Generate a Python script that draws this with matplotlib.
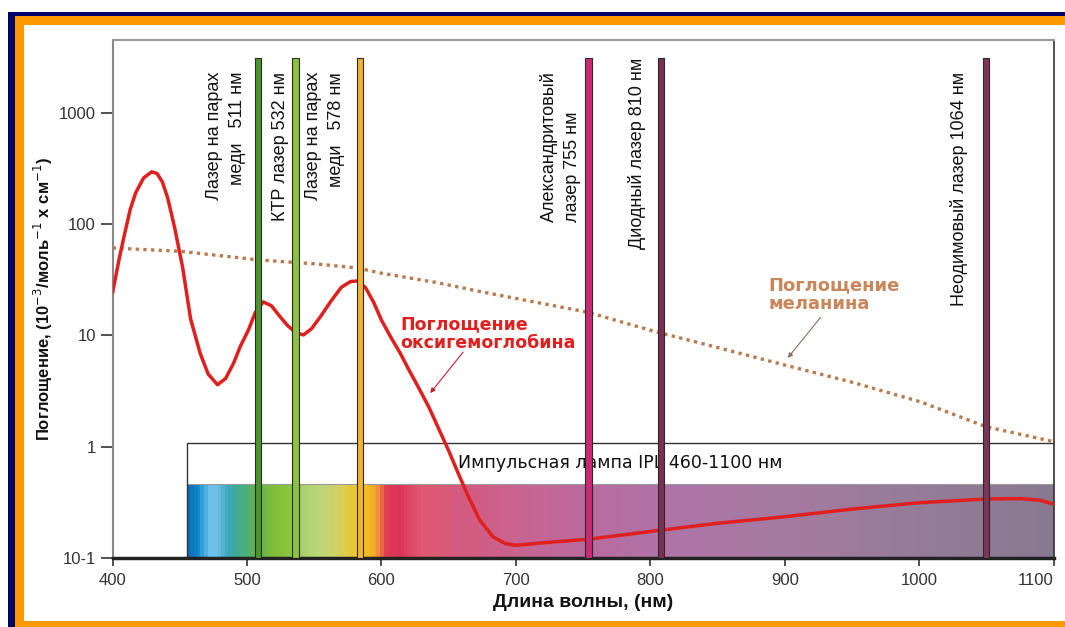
import numpy as np
import matplotlib
matplotlib.use("Agg")
import matplotlib.pyplot as plt
from matplotlib.colors import LinearSegmentedColormap
from matplotlib.patches import Rectangle

plt.rcParams["font.family"] = ["Liberation Sans", "DejaVu Sans"]

# oxyhemoglobin absorption (red line)
hb_nm = [400, 405, 409, 413, 417, 423, 429, 433, 437, 441, 446, 452, 458, 465, 471, 478,
         484, 490, 495, 501, 506, 512, 518, 524, 530, 536, 542, 548, 555, 562, 570,
         577, 582, 588, 594, 600, 607, 614, 620, 627, 635, 642, 650, 657, 664,
         673, 683, 692, 700, 720, 755, 808, 850, 900, 950, 1000, 1050, 1075, 1090, 1100]
hb_val = [24.5, 50, 83, 135, 190, 260, 295, 285, 239, 170, 94, 41, 14, 6.95, 4.5, 3.6,
          4.1, 5.65, 8, 11.2, 16, 20, 18.5, 15, 12.3, 10.6, 10.1, 11.5, 15, 20, 27,
          30.5, 30.8, 27, 20, 13.7, 9.6, 6.9, 5.0, 3.5, 2.3, 1.5, 0.92, 0.58, 0.37,
          0.22, 0.155, 0.135, 0.13, 0.137, 0.148, 0.178, 0.205, 0.235, 0.275, 0.314, 0.339,
          0.342, 0.33, 0.305]

# melanin absorption (dotted line)
mel_nm = [400, 450, 510, 550, 582, 599, 640, 674, 753, 805, 837, 900, 950, 1001, 1050, 1100]
mel_val = [61, 57, 47.5, 44, 40.4, 36.4, 30, 24.7, 16.2, 10.7, 8.55, 5.42, 3.8, 2.53, 1.51, 1.11]

# lasers
laser_nm = [508, 536, 584, 754, 808, 1050]
laser_colors = ["#4a962c", "#8dc23e", "#f2b42e", "#c92a76", "#7b3053", "#7e3558"]
laser_top = 3100
laser_labels = ["Лазер на парах\nмеди   511 нм", "КТР лазер 532 нм", "Лазер на парах\nмеди   578 нм",
                "Александритовый\nлазер 755 нм", "Диодный лазер 810 нм", "Неодимовый лазер 1064 нм"]
label_x = [484, 525, 558, 733, 790, 1030]
label_y = [2330, 2330, 2330, 104, 3100, 2330]
label_va = ["top", "top", "top", "bottom", "top", "top"]
label_ma = ["right", "left", "right", "left", "left", "left"]

# IPL lamp
ipl_start, ipl_end = 455, 1100
ipl_box_top = 1.08
ipl_band_top = 0.463
spec_nm = [455, 462, 470, 476, 484, 494, 505, 518, 530, 540, 552, 565, 575, 588, 596,
           602, 612, 630, 660, 700, 760, 820, 900, 1000, 1100]
spec_col = ["#0a6fb8", "#0f86cc", "#6cc0ec", "#70c0e8", "#3aa6b8", "#45ad8a", "#5fb34f",
            "#7dbd3a", "#8cc43c", "#a8d06a", "#bcd77a", "#cfd268", "#e6c83a", "#f6c01a",
            "#f29a3a", "#e03a55", "#dc3458", "#e05a72", "#d45a80", "#c86490", "#b86ca0",
            "#ad74a6", "#a57aa0", "#947c98", "#887890"]

W, H = 1065, 627
fig = plt.figure(figsize=(W / 100, H / 100), dpi=100)
fig.patch.set_facecolor("white")

# frame strips (pixel boxes x0, y0, x1, y1 from top-left)
navy, orange = "#000066", "#ff9900"
for (x0, y0, x1, y1, c) in [(8, 12, 1065, 16, navy), (15, 16, 1065, 25, orange),
                            (8, 12, 15, 627, navy), (15, 16, 24, 627, orange),
                            (15, 621, 1065, 627, orange)]:
    fig.add_artist(Rectangle((x0 / W, 1 - y1 / H), (x1 - x0) / W, (y1 - y0) / H,
                             transform=fig.transFigure, color=c, lw=0))

ax = fig.add_axes([112.7 / W, (H - 558) / H, (1053.5 - 112.7) / W, 518 / H])
ax.set_yscale("log")
ax.set_xlim(400, 1100)
ax.set_ylim(0.1, 4510)

# spectrum band
cmap = LinearSegmentedColormap.from_list(
    "spec", [((n - ipl_start) / (ipl_end - ipl_start), c) for n, c in zip(spec_nm, spec_col)])
gx = np.linspace(ipl_start, ipl_end, 700)
ax.pcolormesh(gx, [0.1, ipl_band_top], gx[:-1].reshape(1, -1), cmap=cmap,
              vmin=ipl_start, vmax=ipl_end, shading="flat", zorder=1)
ax.plot([ipl_start, ipl_end], [ipl_band_top, ipl_band_top], color="#999999", lw=0.8, zorder=1.5)
ax.add_patch(Rectangle((ipl_start, 0.1), ipl_end - ipl_start, ipl_box_top - 0.1,
                       fill=False, ec="#333333", lw=1.0, zorder=2))
ax.text(657, 0.715, "Импульсная лампа IPL 460-1100 нм", fontsize=12.5,
        family=["DejaVu Sans"], ha="left", va="center", color="#111111", zorder=2)

# curves
ax.plot(mel_nm, mel_val, color="#b87a4e", lw=2.4, linestyle=(0, (1, 1.3)), zorder=3)
ax.plot(hb_nm, hb_val, color="#e0201e", lw=2.5, zorder=3, solid_joinstyle="round")

# laser bars
ax.bar(laser_nm, [laser_top - 0.1] * len(laser_nm), bottom=0.1, width=4.5,
       color=laser_colors, edgecolor="#2a2a2a", linewidth=0.8, zorder=4)

for t, x, y, va, ma in zip(laser_labels, label_x, label_y, label_va, label_ma):
    ax.text(x, y, t, rotation=90, ha="center", va=va, multialignment=ma,
            fontsize=13, linespacing=1.45, color="#111111", zorder=5)

# curve captions
ax.text(614, 15.2, "Поглощение\nоксигемоглобина", color="#e0201e", fontsize=12.5,
        family=["DejaVu Sans"], fontweight="bold", ha="left", va="top", linespacing=1.05, zorder=5)
ax.annotate("", xy=(635, 2.9), xytext=(662, 7.4),
            arrowprops=dict(arrowstyle="-|>", color="#c02030", lw=0.8, mutation_scale=7), zorder=5)
ax.text(888, 34, "Поглощение\nмеланина", color="#c8865a", fontsize=13,
        family=["DejaVu Sans"], fontweight="bold", ha="left", va="top", linespacing=1.05, zorder=5)
ax.annotate("", xy=(901, 6.0), xytext=(928, 15.2),
            arrowprops=dict(arrowstyle="-|>", color="#8a7060", lw=0.8, mutation_scale=7), zorder=5)

# axes styling
ax.set_yticks([0.1, 1, 10, 100, 1000])
ax.set_yticklabels(["10-1", "1", "10", "100", "1000"])
ax.yaxis.set_minor_locator(matplotlib.ticker.NullLocator())
ax.set_xticks([400, 500, 600, 700, 800, 900, 1000, 1100])
ax.tick_params(axis="y", length=8.6, width=1.2, color="#333333", pad=3.5, labelsize=12, labelcolor="#333333")
ax.tick_params(axis="x", length=6, width=1.2, color="#333333", pad=5, labelsize=12, labelcolor="#333333")
last = ax.get_xticklabels()[-1]
last.set_horizontalalignment("right")

ax.spines["top"].set_color("#999999")
ax.spines["top"].set_linewidth(1.5)
ax.spines["left"].set_color("#888888")
ax.spines["left"].set_linewidth(1.5)
ax.spines["right"].set_color("#333333")
ax.spines["right"].set_linewidth(1.2)
ax.spines["bottom"].set_color("#222222")
ax.spines["bottom"].set_linewidth(2.5)

ax.set_xlabel("Длина волны, (нм)", fontsize=14, fontweight="bold", color="#111111", labelpad=4)
ax.set_ylabel("Поглощение, (10$^{-3}$/моль$^{-1}$ x см$^{-1}$)", fontsize=12,
              fontweight="bold", color="#111111", labelpad=3)

fig.savefig("out.png", dpi=100)
